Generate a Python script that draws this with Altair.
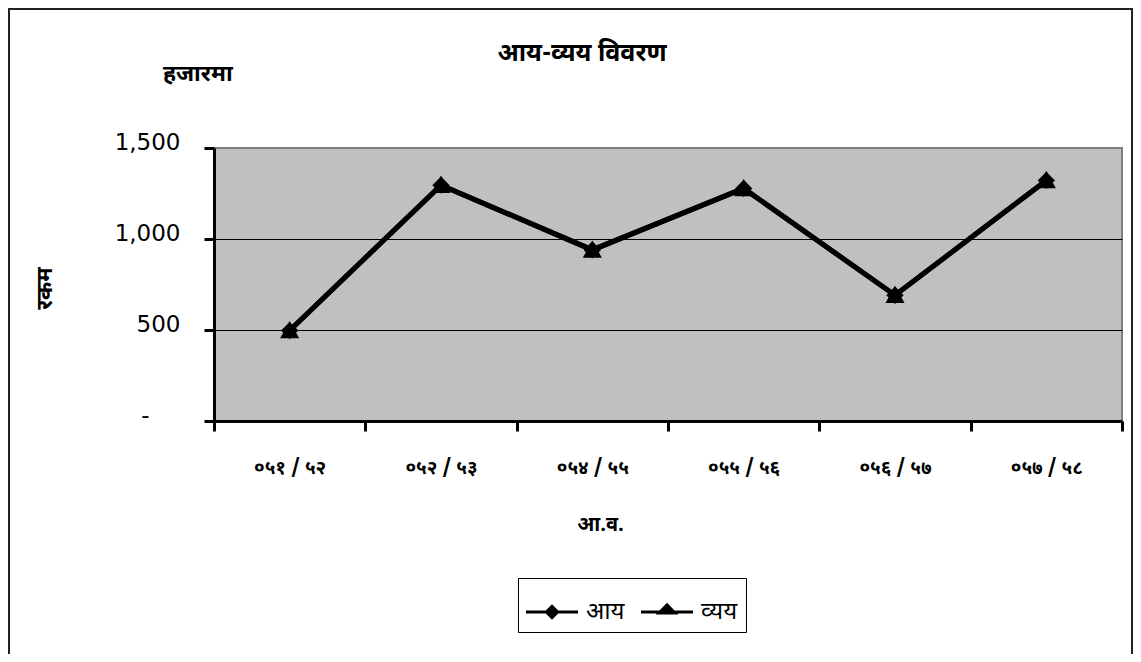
import altair as alt
import pandas as pd

years = ["०५१ / ५२", "०५२ / ५३", "०५४ / ५५", "०५५ / ५६", "०५६ / ५७", "०५७ / ५८"]
series = ["आय", "व्यय"]
income = [497, 1296, 940, 1278, 691, 1322]
expense = [497, 1296, 940, 1278, 691, 1322]
y_ticks = [0, 500, 1000, 1500]

rows = []
for s, vals in zip(series, [income, expense]):
    for yr, v in zip(years, vals):
        rows.append({"year": yr, "series": s, "value": v})
df = pd.DataFrame(rows)

DEV = "Noto Sans Devanagari, Noto Sans, Lohit Devanagari, sans-serif"

# marker shapes (unit box -1..1)
diamond = "M0,-1L1,0L0,1L-1,0Z"
triangle = "M0,-1.1L1.1,0.9L-1.1,0.9Z"
# legend symbols: a line (thin filled bar) with the marker in the middle
diamond_leg = "M-1,-0.055L1,-0.055L1,0.055L-1,0.055Z M0,-0.3L0.3,0L0,0.3L-0.3,0Z"
triangle_leg = "M-1,-0.055L1,-0.055L1,0.055L-1,0.055Z M0,-0.36L0.44,0.1L-0.44,0.1Z"

x_enc = alt.X(
    "year:N",
    sort=years,
    scale=alt.Scale(type="band", paddingInner=0, paddingOuter=0),
    axis=alt.Axis(
        title="आ.व.",
        titleFont=DEV,
        titleFontSize=20,
        titleFontWeight="bold",
        titleColor="black",
        titleX=386,
        titleY=103,
        titleBaseline="middle",
        titleAlign="center",
        labelFont=DEV,
        labelFontSize=19,
        labelFontWeight="bold",
        labelColor="black",
        labelAngle=0,
        labelPadding=27,
        tickBand="extent",
        tickSize=10,
        tickWidth=3,
        tickColor="black",
        domainColor="black",
        domainWidth=3,
        grid=False,
    ),
)

y_enc = alt.Y(
    "value:Q",
    scale=alt.Scale(domain=[0, 1500], nice=False),
    axis=alt.Axis(
        title="रकम",
        titleFont=DEV,
        titleFontSize=22,
        titleFontWeight="bold",
        titleColor="black",
        titleX=-170,
        titleY=140,
        titleBaseline="middle",
        titleAlign="center",
        titleAngle=-90,
        values=y_ticks,
        labelExpr="datum.value == 0 ? '-' : format(datum.value, ',.0f')",
        labelFont="DejaVu Sans",
        labelFontSize=23,
        labelColor="black",
        labelPadding={"condition": {"test": "datum.value == 0", "value": 55}, "value": 24},
        labelOffset=-6,
        tickSize=10,
        tickWidth=3,
        tickColor="black",
        domainColor="black",
        domainWidth=3,
        grid=True,
        gridColor="black",
        gridWidth=1,
        gridOpacity={"condition": {"test": "datum.value >= 1500 || datum.value <= 0", "value": 0}, "value": 1},
    ),
)

base = alt.Chart(df)

lines = base.mark_line(color="black", strokeWidth=5).encode(
    x=x_enc, y=y_enc, detail="series:N"
)

points = base.mark_point(filled=True, color="black", opacity=1, size=300).encode(
    x=alt.X("year:N", sort=years),
    y="value:Q",
    shape=alt.Shape("series:N", sort=series,
                    scale=alt.Scale(domain=series, range=[diamond, triangle]),
                    legend=None),
    order=alt.Order("series:N"),
)

legend_layer = base.mark_point(filled=True, color="black", opacity=0).encode(
    x=alt.X("year:N", sort=years),
    y="value:Q",
    shape=alt.Shape(
        "series:N",
        sort=series,
        scale=alt.Scale(domain=series, range=[diamond_leg, triangle_leg]),
        legend=alt.Legend(
            title=None,
            orient="none",
            direction="horizontal",
            legendX=304,
            legendY=430,
            padding=8,
            strokeColor="black",
            fillColor="white",
            symbolSize=2704,
            symbolStrokeWidth=0,
            symbolFillColor="black",
            symbolOpacity=1,
            labelFont=DEV,
            labelFontSize=24,
            labelColor="black",
            labelOffset=8,
            columnPadding=16,
        ),
    ),
)

frame_data = alt.Data(values=[{"k": 1}])
frame = alt.Chart(frame_data).mark_rect(
    fill=None, stroke="#222222", strokeWidth=2, fillOpacity=0
).encode(
    x=alt.value(-205), x2=alt.value(918), y=alt.value(-139), y2=alt.value(700)
)

title_text = alt.Chart(frame_data).mark_text(
    text="आय-व्यय विवरण", font=DEV, fontSize=25, fontWeight="bold",
    align="center", baseline="middle", color="black"
).encode(x=alt.value(368), y=alt.value(-95))

subtitle = alt.Chart(frame_data).mark_text(
    text="हजारमा", font=DEV, fontSize=23, fontWeight="bold",
    align="left", baseline="middle", color="black"
).encode(x=alt.value(-51), y=alt.value(-74))

chart = alt.layer(frame, lines, points, legend_layer, title_text, subtitle).resolve_scale(
    shape="independent"
).properties(
    width=908,
    height=273,
    padding={"left": 206, "top": 140, "right": 11, "bottom": 233},
    autosize=alt.AutoSizeParams(type="none"),
    background="white",
).configure_view(
    fill="#C0C0C0", stroke="#808080", strokeWidth=2
)

chart.save("out.html", embed_options={"renderer": "svg", "actions": False})
